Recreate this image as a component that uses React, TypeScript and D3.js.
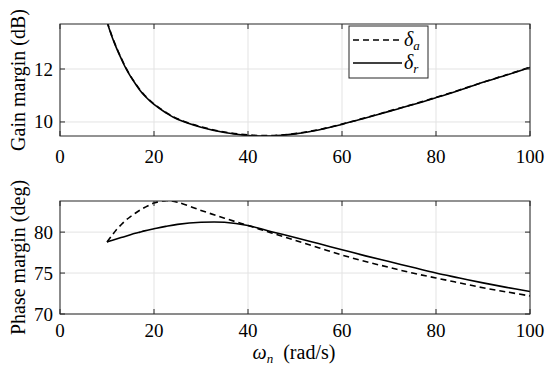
import React from 'react';
import * as d3 from 'd3';

// frequency samples (rad/s)
const omega = [10, 11, 12, 13, 14, 15, 16, 17, 18, 20, 22.5, 25, 30, 35, 40, 45, 50, 55, 60, 65, 70, 75, 80, 85, 90, 95, 100];

// gain margin (dB)
const gainA = [13.8, 13.27, 12.82, 12.42, 12.05, 11.74, 11.47, 11.22, 11.01, 10.68, 10.37, 10.12, 9.82, 9.62, 9.51, 9.49, 9.56, 9.71, 9.92, 10.16, 10.41, 10.66, 10.93, 11.21, 11.5, 11.78, 12.07];
const gainR = [13.78, 13.25, 12.8, 12.4, 12.03, 11.72, 11.45, 11.2, 10.99, 10.66, 10.35, 10.1, 9.8, 9.6, 9.49, 9.47, 9.55, 9.7, 9.91, 10.15, 10.4, 10.65, 10.92, 11.2, 11.5, 11.77, 12.06];

// phase margin (deg)
const phaseA = [78.8, 79.55, 80.3, 80.9, 81.45, 81.9, 82.3, 82.68, 83.0, 83.55, 83.85, 83.65, 82.65, 81.7, 80.8, 79.9, 79.0, 78.1, 77.2, 76.4, 75.7, 75.0, 74.4, 73.8, 73.2, 72.7, 72.2];
const phaseR = [78.8, 78.98, 79.15, 79.33, 79.5, 79.68, 79.85, 80.0, 80.15, 80.4, 80.7, 80.95, 81.2, 81.2, 80.8, 80.05, 79.35, 78.6, 77.85, 77.1, 76.4, 75.7, 75.0, 74.4, 73.8, 73.25, 72.75];

const xTicks = [0, 20, 40, 60, 80, 100];
const gainTicks = [10, 12];
const phaseTicks = [70, 75, 80];

const FONT = '"Liberation Serif", "Times New Roman", Times, "DejaVu Serif", serif';
const AXIS = '#262626';
const GRID = '#e3e3e3';

const left = 60;
const right = 530;

type PanelProps = {
  top: number;
  bottom: number;
  yDomain: [number, number];
  yTicks: number[];
  seriesA: number[];
  seriesR: number[];
  id: string;
  labelOffset: number;
  children?: React.ReactNode;
};

const Panel = ({ top, bottom, yDomain, yTicks, seriesA, seriesR, id, labelOffset, children }: PanelProps) => {
  const x = d3.scaleLinear().domain([0, 100]).range([left, right]);
  const y = d3.scaleLinear().domain(yDomain).range([bottom, top]);
  const line = (vals: number[]) =>
    d3.line<number>()
      .x((_, i) => x(omega[i]))
      .y(d => y(d))
      .curve(d3.curveCatmullRom.alpha(0.5))(vals) || '';
  const tl = 5;

  return (
    <g>
      <defs>
        <clipPath id={id}>
          <rect x={left} y={top} width={right - left} height={bottom - top} />
        </clipPath>
      </defs>
      <rect x={left} y={top} width={right - left} height={bottom - top} fill="#fff" />
      {/* grid */}
      {xTicks.map(t => (
        <line key={'gx' + t} x1={x(t)} x2={x(t)} y1={top} y2={bottom} stroke={GRID} strokeWidth={1} />
      ))}
      {yTicks.map(t => (
        <line key={'gy' + t} x1={left} x2={right} y1={y(t)} y2={y(t)} stroke={GRID} strokeWidth={1} />
      ))}
      {/* curves */}
      <g clipPath={`url(#${id})`}>
        <path d={line(seriesA)} fill="none" stroke="#000" strokeWidth={1.6} strokeDasharray="6,4" />
        <path d={line(seriesR)} fill="none" stroke="#000" strokeWidth={1.6} />
      </g>
      {/* ticks */}
      {xTicks.map(t => (
        <g key={'tx' + t}>
          <line x1={x(t)} x2={x(t)} y1={bottom} y2={bottom - tl} stroke={AXIS} />
          <line x1={x(t)} x2={x(t)} y1={top} y2={top + tl} stroke={AXIS} />
          <text x={x(t)} y={bottom + labelOffset} textAnchor="middle" fontSize={19} fill="#000">{t}</text>
        </g>
      ))}
      {yTicks.map(t => (
        <g key={'ty' + t}>
          <line x1={left} x2={left + tl} y1={y(t)} y2={y(t)} stroke={AXIS} />
          <line x1={right} x2={right - tl} y1={y(t)} y2={y(t)} stroke={AXIS} />
          <text x={left - 7} y={y(t) + 6.5} textAnchor="end" fontSize={19} fill="#000">{t}</text>
        </g>
      ))}
      <rect x={left} y={top} width={right - left} height={bottom - top} fill="none" stroke={AXIS} strokeWidth={1} />
      {children}
    </g>
  );
};

const App = () => {
  const gTop = 24, gBottom = 136;
  const pTop = 201, pBottom = 314;
  return (
    <svg width={550} height={374} style={{ position: 'absolute', left: 0, top: 0, background: '#fff', fontFamily: FONT }}>
      <rect width={550} height={374} fill="#fff" />
      <Panel top={gTop} bottom={gBottom} yDomain={[9.47, 13.7]} yTicks={gainTicks} seriesA={gainA} seriesR={gainR} id="clipGain" labelOffset={27}>
        {/* legend */}
        <g>
          <rect x={349} y={26} width={79} height={52} fill="#fff" stroke={AXIS} strokeWidth={1} />
          <line x1={353} x2={402} y1={40} y2={40} stroke="#000" strokeWidth={1.6} strokeDasharray="6,4" />
          <line x1={353} x2={402} y1={63} y2={63} stroke="#000" strokeWidth={1.6} />
          <text x={404} y={46} fontSize={20} fontStyle="italic">δ<tspan fontSize={13} dy={4}>a</tspan></text>
          <text x={404} y={69} fontSize={20} fontStyle="italic">δ<tspan fontSize={13} dy={4}>r</tspan></text>
        </g>
      </Panel>
      <Panel top={pTop} bottom={pBottom} yDomain={[70, 83.8]} yTicks={phaseTicks} seriesA={phaseA} seriesR={phaseR} id="clipPhase" labelOffset={23} />
      <text transform={`translate(25,${(gTop + gBottom) / 2}) rotate(-90)`} textAnchor="middle" fontSize={20}>Gain margin (dB)</text>
      <text transform={`translate(25,${(pTop + pBottom) / 2}) rotate(-90)`} textAnchor="middle" fontSize={20}>Phase margin (deg)</text>
      <text x={294} y={359} textAnchor="middle" fontSize={20}>
        <tspan fontStyle="italic">ω</tspan><tspan fontStyle="italic" fontSize={13} dy={4}>n</tspan><tspan dy={-4}>{'\u2002'}(rad/s)</tspan>
      </text>
    </svg>
  );
};

export default App;
